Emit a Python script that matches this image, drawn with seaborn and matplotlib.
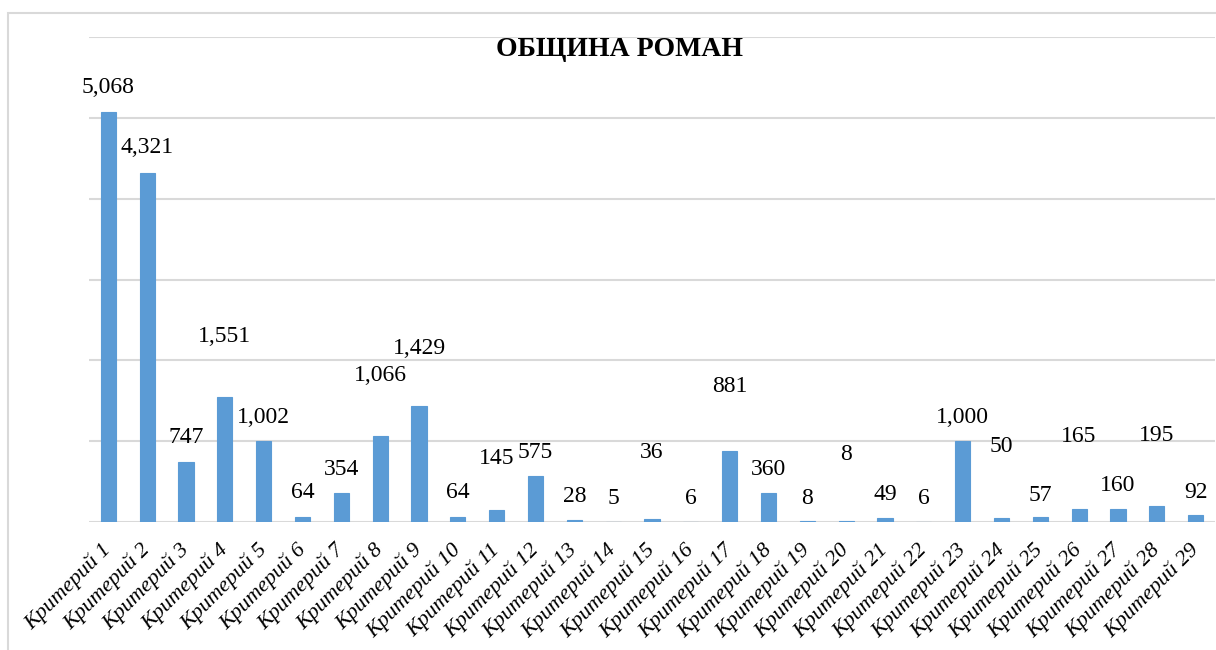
import matplotlib
matplotlib.use("Agg")
import matplotlib.pyplot as plt
from matplotlib.patches import Rectangle
import seaborn as sns
import pandas as pd

# Criteria and their values
criteria = [f"Критерий {i}" for i in range(1, 30)]
values = [5068, 4321, 747, 1551, 1002, 64, 354, 1066, 1429, 64,
          145, 575, 28, 5, 36, 6, 881, 360, 8, 8,
          49, 6, 1000, 50, 57, 165, 160, 195, 92]

# Vertical lift (pixels) of each value label above its bar
label_lift = [25, 25, 24, 60, 24, 24, 24, 60, 58, 24,
              52, 23, 23, 23, 67, 23, 64, 23, 23, 67,
              24, 23, 24, 71, 22, 72, 24, 71, 22]

title = "ОБЩИНА РОМАН"
bar_color = "#5B9BD5"
grid_color = "#D9D9D9"

sns.set_theme(style="white")
plt.rcParams["font.family"] = ["Liberation Serif", "DejaVu Serif"]

W, H, DPI = 1216, 650, 100
fig = plt.figure(figsize=(W / DPI, H / DPI), dpi=DPI)
ax = fig.add_axes([89 / W, 1 - 522 / H, (1215 - 89) / W, (522 - 37) / H])

df = pd.DataFrame({"criterion": criteria, "value": values})
sns.barplot(data=df, x="criterion", y="value", color=bar_color,
            saturation=1, width=0.39, ax=ax, zorder=3,
            edgecolor=bar_color, linewidth=0.8)

ax.set_ylim(0, 6000)
ax.set_xlim(-0.5, len(criteria) - 0.5)
ax.set_yticks(range(0, 6001, 1000))
ax.set_yticklabels([])
ax.tick_params(axis="y", length=0)
ax.yaxis.grid(True, color=grid_color, linewidth=1.5, zorder=0)
ax.xaxis.grid(False)
for s in ax.spines.values():
    s.set_visible(False)
ax.set_xlabel("")
ax.set_ylabel("")

ax.tick_params(axis="x", length=0, pad=18)
for lbl in ax.get_xticklabels():
    lbl.set_rotation(45)
    lbl.set_ha("right")
    lbl.set_va("center")
    lbl.set_rotation_mode("anchor")
    lbl.set_fontstyle("italic")
    lbl.set_fontsize(16)
    lbl.set_color("black")

for i, (v, lift) in enumerate(zip(values, label_lift)):
    ax.annotate(f"{v:,}", xy=(i, v), xytext=(0, lift * 72 / DPI),
                textcoords="offset points", ha="center", va="center",
                fontsize=17, color="black", zorder=4)

fig.text(620 / W, 1 - 50 / H, title, ha="center", va="center",
         fontsize=20, fontweight="bold", color="black")

# Chart frame
fig.patches.append(Rectangle((8 / W, -0.1), 1.2, 1 - 13 / H + 0.1,
                             transform=fig.transFigure, fill=False,
                             edgecolor=grid_color, linewidth=1.5, zorder=0))

fig.savefig("out.png", dpi=DPI)
